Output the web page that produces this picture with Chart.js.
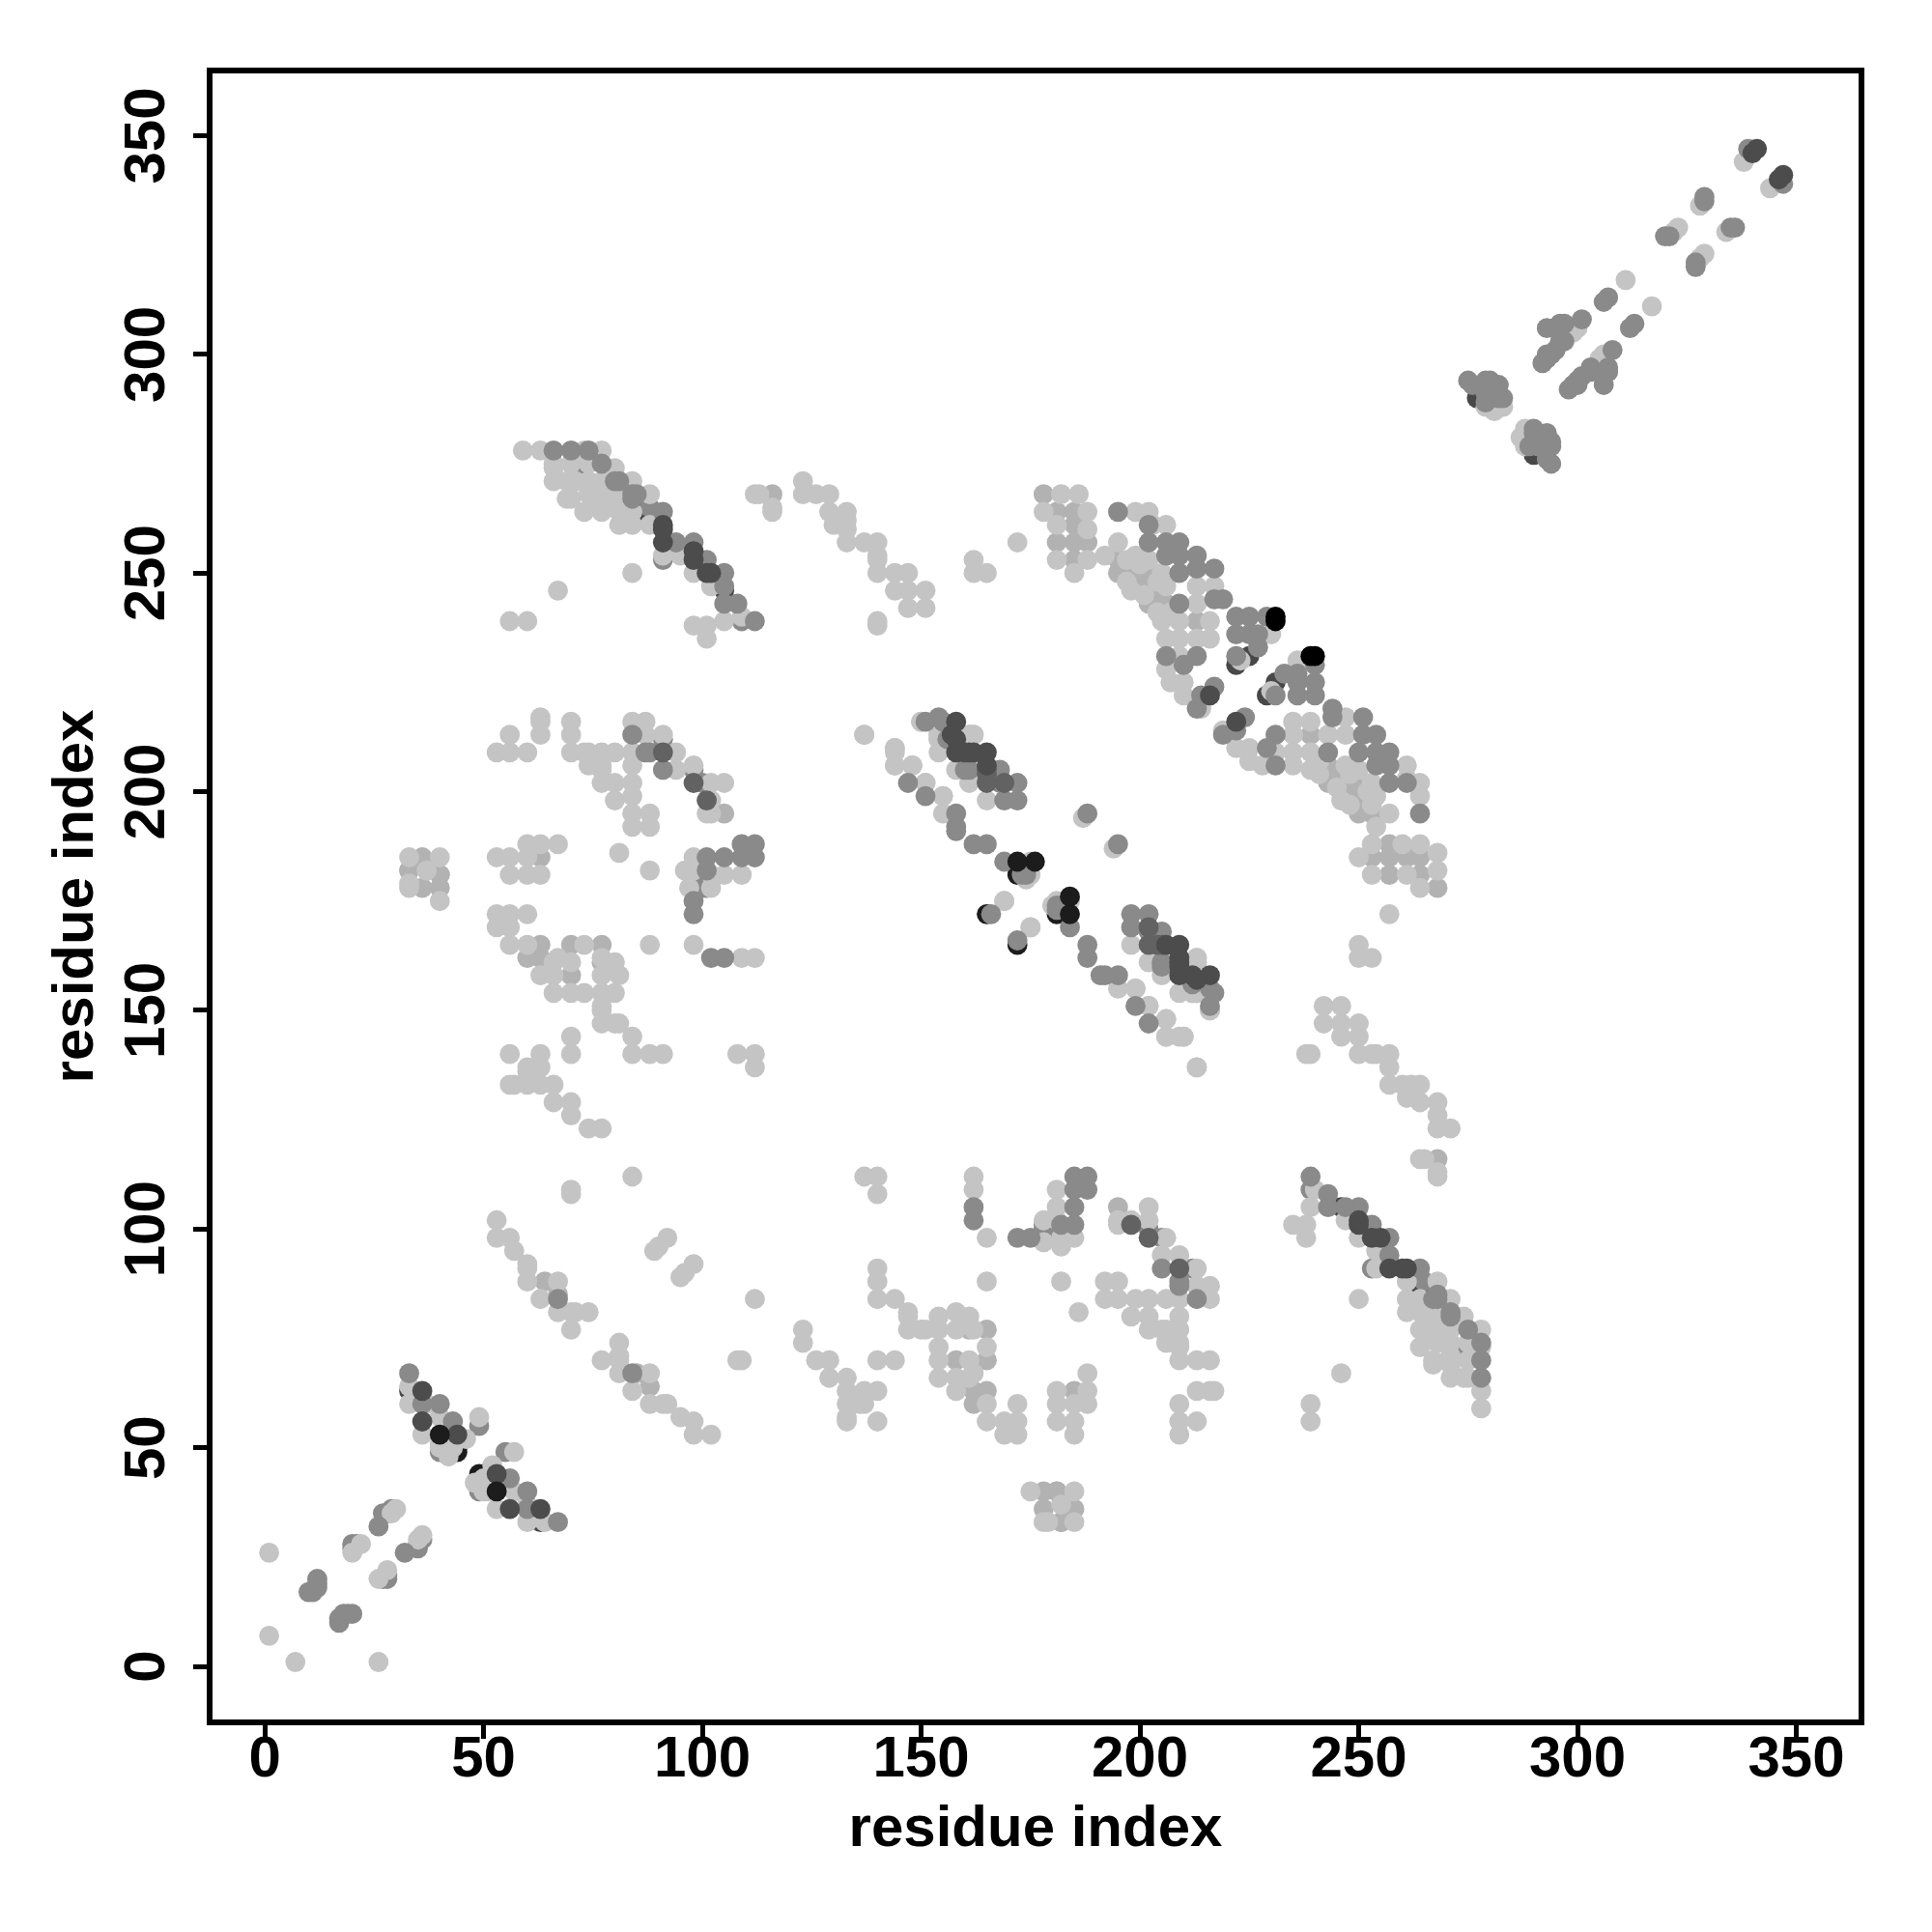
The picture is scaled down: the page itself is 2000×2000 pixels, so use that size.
<!DOCTYPE html>
<html><head><meta charset="utf-8">
<style>html,body{margin:0;padding:0;background:#fff}canvas{display:block}</style>
<script src="https://cdn.jsdelivr.net/npm/chart.js@4"></script></head>
<body><canvas id="c" width="2000" height="2000"></canvas>
<script>
const tickValues=[0,50,100,150,200,250,300,350];
const axisLabel="residue index";
// residue contacts [i,j]; the map is symmetric, so each is shown at (i,j) and (j,i)
const blackLow=[[44,50],[44,49],[172,181],[165,172]];
const darkLow=[[33,63],[42,51],[43,52],[87,264],[88,264],[105,246],[277,290],[222,229],[225,231]];
const midLow=[[20,27],[20,28],[21,28],[27,35],[28,35],[29,36],[49,55],[91,212],[109,239],[91,253],[88,265],[73,274],[80,267],[98,205],[98,181],[101,181],[101,178],[100,178],[100,202],[40,49]];
const lightShade=[[33,182],[40,181],[105,195],[63,185],[64,88],[67,85],[116,268],[60,162],[63,162],[70,165],[63,165],[77,165],[70,158],[77,161],[40,178],[40,181],[36,178],[36,185],[33,182],
[195,253],[195,250],[199,250],[202,250],[202,246],[202,243],[206,243],[213,239],[188,257],[185,253],[185,257],[185,261],[185,264],[181,257],[181,264],[178,268],[196,251],[200,247],[203,244]];
const light=[[1,7],[1,26],[20,26],[22,28],[30,36],[29,35],[33,64],[33,60],[36,53],[37,60],[40,57],[46,52],[49,57],[40,50],[42,48],[43,50],[40,51],
[59,278],[63,278],[73,278],[77,278],[66,275],[66,274],[70,275],[74,275],[80,274],[66,271],[69,271],[71,271],[74,271],[77,271],[84,271],[69,267],[70,267],[74,268],[77,268],[81,268],[88,268],[73,264],[77,264],[81,264],[84,264],[81,261],[84,261],[88,261],[75,270],[78,266],[76,266],[80,265],[83,262],
[91,254],[95,254],[98,250],[102,247],[105,239],[109,240],[98,238],[101,238],[101,235],[84,250],[67,246],[56,239],[60,239],
[112,268],[113,268],[116,265],[116,264],[123,271],[123,268],[126,268],[129,268],[129,264],[133,264],[130,261],[133,262],[133,260],[133,257],[137,257],[140,257],[140,254],[140,253],[140,250],[144,250],[147,250],[144,246],[147,246],[151,246],[147,242],[151,242],[140,239],[140,238],
[63,217],[63,216],[63,213],[56,213],[53,209],[56,209],[60,209],[70,216],[70,213],[70,209],[73,209],[74,209],[77,209],[80,209],[84,209],[84,216],[87,216],[87,213],[91,213],[94,209],[94,205],[98,206],[102,202],[105,202],[102,198],[101,195],[102,195],[74,206],[77,206],[77,205],[77,202],[80,202],[80,198],[84,206],[84,202],[84,199],[84,195],[84,192],[88,195],[88,192],
[33,185],[40,185],[37,182],[33,179],[33,178],[40,175],[53,185],[56,185],[60,188],[63,188],[67,188],[60,185],[56,181],[60,181],[63,181],[81,186],[88,182],[98,185],[96,182],[98,182],[102,181],[105,181],[109,181],[97,178],[102,178],[53,172],[56,172],[60,172],[53,169],[56,169],[56,165],[60,165],[73,165],[88,165],[98,165],[109,162],[112,162],[66,161],[67,162],[70,161],[77,162],[80,161],[63,158],[66,158],[77,158],[81,158],[66,154],[70,154],[73,154],[77,154],[80,154],[77,151],[77,150],[77,147],[80,147],[81,147],[84,144],[84,140],[88,140],[91,140],[70,144],[70,140],[56,140],[63,140],[60,137],[63,137],[60,136],[56,133],[57,133],[60,133],[63,133],[66,133],[66,129],[70,129],[70,126],[74,123],[77,123],[108,140],[112,140],[112,137],
[53,102],[53,98],[56,98],[57,95],[60,92],[60,91],[60,88],[67,88],[63,84],[67,81],[70,81],[71,81],[74,81],[70,77],[84,112],[70,109],[70,108],[92,98],[90,96],[89,95],
[137,213],[144,210],[144,209],[144,206],[148,206],[151,202],[155,199],[155,195],[175,184],[175,181],[174,180],[169,175],[175,169],[180,174],[199,155],[202,151],[206,148],[206,144],[210,144],[213,137],[187,194],
[150,216],[154,212],[161,213],[162,213],[154,209],[158,205],[161,202],[165,198],[212,154],[213,154],[213,162],[213,161],[216,150],[154,213],
[199,264],[202,264],[203,261],[206,261],[195,257],[192,254],[199,254],[202,253],[205,250],[198,246],[206,247],[213,247],[217,247],[213,243],[205,239],[209,239],[216,239],[206,235],[209,235],[213,235],[216,235],[209,231],[206,228],[207,225],[210,225],[210,222],[214,219],[230,236],[223,230],
[188,253],[188,260],[188,264],[186,268],[185,250],[181,253],[181,261],[182,268],[178,264],[172,257],[165,250],[162,250],[162,253],
[197,248],[201,245],[204,248],[200,252],[197,253],[204,241],[207,241],
[338,344],[328,334],[322,328],[323,329],[311,317],[300,306],[299,305],[281,287],[283,288],[279,288]];
const midTop=[[10,17],[11,17],[12,18],[12,19],[12,20],[26,32],[33,67],[40,60],[43,56],[36,60],
[66,278],[70,278],[74,278],[77,275],[80,271],[81,271],[84,268],[85,268],[84,267],[91,264],[94,257],[98,257],[101,253],[105,250],[105,247],[105,243],[108,243],[112,239],[67,84],
[84,213],[87,209],[88,209],[91,205],[101,185],[105,185],[109,188],[112,188],[109,185],[112,185],[98,175],[98,172],[102,162],[105,162],[101,182],
[147,202],[151,199],[158,195],[158,192],[158,191],[162,188],[165,188],[169,184],[174,181],[173,181],[166,172],[188,195],
[151,216],[154,217],[155,216],[156,212],[161,205],[160,205],[168,205],[172,202],[168,202],[169,198],[172,198]];
const midTopUpper=[[195,264],[202,261],[202,257],[206,257],[209,257],[206,254],[209,254],[213,254],[209,250],[213,251],[217,251],[209,243],[217,244],[219,244],[206,231],[213,231],[210,229],[213,219],[214,222],[217,224],
[222,240],[225,240],[229,240],[222,236],[225,236],[227,236],[227,233],[222,231],
[339,347],[329,336],[329,335],[320,327],[321,327],[307,313],[306,312],[301,308],[293,306],[295,306],[296,307],[297,307],[296,303],[297,303],[295,301],[294,300],[293,300],[292,298],[293,299],[275,294],[279,294],[280,294],[276,293],[282,293],[279,291],[283,290],[279,289],[282,290],[280,292]];
const darkMid=[[91,209],[98,202],[101,198],[165,202],[169,202],[165,204],[165,205]];
const darkTop=[[36,63],[36,56],[44,53],[91,261],[91,260],[91,257],[98,253],[98,255],[101,250],[102,250],
[158,216],[158,212],[158,209],[161,209],[162,209],[165,209],[160,209],[165,206],[157,213],[216,222],[341,347],[340,346]];
const charcoalTop=[[176,184],[172,184],[40,53]];
const blackTop=[[231,240],[231,239]];

const mirror=l=>l.flatMap(([i,j])=>[{x:i,y:j},{x:j,y:i}]);
const layers=[[blackLow,'#1c1c1c'],[darkLow,'#484848'],[midLow,'#8a8a8a'],[lightShade,'#b2b2b2'],[light,'#c4c4c4'],[midTop,'#8a8a8a'],[midTopUpper,'#8a8a8a'],[darkMid,'#626262'],[darkTop,'#4c4c4c'],[charcoalTop,'#1c1c1c'],[blackTop,'#000000']];
const frame={id:'frame',afterDatasetsDraw(ch){const a=ch.chartArea,g=ch.ctx;g.save();g.strokeStyle='#000';g.lineWidth=6;g.strokeRect(a.left,a.top,a.right-a.left,a.bottom-a.top);g.restore();}};
const FONT={family:'"Liberation Sans"',size:60,weight:'bold'};
new Chart(document.getElementById('c'),{
 type:'scatter',
 data:{datasets:layers.map(([l,c],k)=>({data:mirror(l),backgroundColor:c,borderWidth:0,pointRadius:10.4,pointHoverRadius:10.4,order:-k}))},
 plugins:[frame],
 options:{responsive:false,animation:false,events:[],
  layout:{padding:{top:73,right:73,left:0,bottom:0}},
  plugins:{legend:{display:false},tooltip:{enabled:false}},
  scales:{
   x:{type:'linear',min:-12.6,max:364.9,afterBuildTicks:s=>{s.ticks=tickValues.map(v=>({value:v}))},afterFit:s=>{s.height=217},
      border:{display:false},grid:{drawOnChartArea:false,tickLength:17,tickWidth:5,tickColor:'#000'},
      ticks:{font:FONT,color:'#000',padding:-14,maxRotation:0,autoSkip:false},
      title:{display:true,text:axisLabel,font:FONT,color:'#000',padding:{top:0,bottom:70}}},
   y:{type:'linear',min:-12.8,max:364.9,afterBuildTicks:s=>{s.ticks=tickValues.map(v=>({value:v}))},afterFit:s=>{s.width=217},
      border:{display:false},grid:{drawOnChartArea:false,tickLength:17,tickWidth:5,tickColor:'#000'},
      ticks:{font:FONT,color:'#000',padding:-4,minRotation:90,maxRotation:90,crossAlign:'center',autoSkip:false},
      title:{display:true,text:axisLabel,font:FONT,color:'#000',padding:{top:43,bottom:0}}}
  }}
});
</script></body></html>
